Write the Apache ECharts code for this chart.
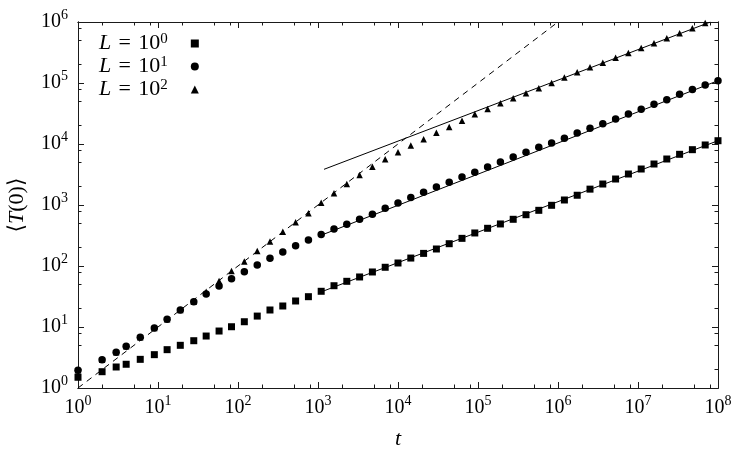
<html lang="en">
<head>
  <meta charset="UTF-8">
  <title>T(0) vs t</title>
  <style>
    html, body { margin: 0; padding: 0; background: #fff; }
    #chart { width: 750px; height: 450px; }
  </style>
</head>
<body>
  <div id="chart"></div>
  <script src="https://cdn.jsdelivr.net/npm/echarts@6/dist/echarts.min.js"></script>
  <script>
    // time points shared by all three data sets
    var times = [1, 2, 3, 4, 6, 9, 13, 19, 28, 40, 58, 83, 120, 174, 251, 363, 525, 759,
      1096, 1585, 2291, 3311, 4786, 6918, 10000, 14454, 20893, 30200, 43652, 63096,
      91201, 131826, 190546, 275423, 398107, 575440, 831764, 1202264, 1737801, 2511886,
      3630781, 5248075, 7585776, 10964782, 15848932, 22908677, 33113112, 47863009,
      69183097, 100000000]

    var valsL0 = [1.50, 1.85, 2.21, 2.45, 2.95, 3.52, 4.25, 5.01, 5.96, 7.11, 8.59, 10.1,
      12.2, 15.1, 19.0, 22.1, 26.7, 31.4, 38.5, 47.5, 56.1, 66.1, 79.8, 95.3, 112, 135,
      161, 190, 232, 284, 348, 415, 489, 583, 693, 818, 989, 1208, 1445, 1820, 2208, 2667,
      3221, 3890, 4699, 5675, 6776, 8072, 9638, 11324]

    var valsL1 = [1.95, 2.91, 3.85, 4.82, 6.78, 9.64, 13.4, 19.0, 26.0, 34.8, 47.0, 61.9,
      80.7, 104, 134, 170, 215, 267, 327, 405, 482, 582, 703, 881, 1079, 1327, 1614, 1972,
      2355, 2877, 3436, 4198, 5070, 6124, 7311, 8831, 10375, 12388, 15136, 18072, 21528,
      25704, 31046, 37068, 44771, 53333, 65313, 77983, 92683, 109144]

    var valsL2 = [1.95, 2.91, 3.85, 4.82, 6.78, 9.64, 13.4, 19.0, 26.0, 38.0, 56.8, 82.8,
      119, 176, 251, 366, 520, 729, 1091, 1552, 2208, 3105, 4246, 5610, 7295, 9441, 11940,
      15311, 19011, 24099, 30690, 37497, 46452, 56105, 67764, 81846, 100000, 123027,
      149624, 180717, 215278, 260016, 310456, 374973, 447713, 539511, 651628, 787046,
      963829, 1148154]

    // guide lines: [t, value] end points
    var dashedLine = [[1, 1], [1000000, 1000000]]
    var fitL2 = [[1189, 3846], [80500000, 1000000]]
    var fitL1 = [[1060, 314], [100000000, 109144]]
    var fitL0 = [[1060, 37], [100000000, 11324]]

    var legendNames = ['L = 10^0', 'L = 10^1', 'L = 10^2']
    var xMajor = [1, 10, 100, 1000, 10000, 100000, 1000000, 10000000, 100000000]
    var yMajor = [1, 10, 100, 1000, 10000, 100000, 1000000]
    var minorSteps = [2, 5, 8]

    var serif = "'Liberation Serif', 'DejaVu Serif', serif"
    var ink = '#1a1a1a'

    var minorOf = function (majors) {
      var out = []
      majors.slice(0, -1).forEach(function (m) {
        minorSteps.forEach(function (s) { out.push(m * s) })
      })
      return out
    }

    var powLabel = function (v) {
      var e = Math.round(Math.log10(v))
      return '{b|10}{s|' + e + '}'
    }

    var labelRich = {
      b: { fontFamily: serif, fontSize: 20, color: '#000', lineHeight: 28 },
      s: { fontFamily: serif, fontSize: 14, color: '#000', lineHeight: 14, verticalAlign: 'top' }
    }

    var pairs = function (vals) {
      return times.map(function (t, i) { return [t, vals[i]] })
    }

    var makeX = function (pos, values, len, labels) {
      return {
        type: 'log', logBase: 10, min: 1, max: 100000000, position: pos,
        gridIndex: 0,
        axisLine: { show: true, onZero: false, lineStyle: { color: ink, width: 1 } },
        axisTick: { show: true, inside: true, length: len, customValues: values, lineStyle: { color: ink } },
        axisLabel: labels ? {
          show: true, margin: 6, customValues: xMajor, formatter: powLabel, rich: labelRich
        } : { show: false },
        splitLine: { show: false },
        minorTick: { show: false }
      }
    }

    var makeY = function (pos, values, len, labels) {
      return {
        type: 'log', logBase: 10, min: 1, max: 1000000, position: pos,
        gridIndex: 0,
        axisLine: { show: true, onZero: false, lineStyle: { color: ink, width: 1 } },
        axisTick: { show: true, inside: true, length: len, customValues: values, lineStyle: { color: ink } },
        axisLabel: labels ? {
          show: true, margin: 10, customValues: yMajor, formatter: powLabel, rich: labelRich
        } : { show: false },
        splitLine: { show: false },
        minorTick: { show: false }
      }
    }

    var xAxes = [
      makeX('bottom', xMajor, 6, true),
      makeX('bottom', minorOf(xMajor), 3.5, false),
      makeX('top', xMajor, 6, false),
      makeX('top', minorOf(xMajor), 3.5, false)
    ]
    xAxes[0].name = 't'
    xAxes[0].nameLocation = 'middle'
    xAxes[0].nameGap = 40
    xAxes[0].nameTextStyle = { fontFamily: serif, fontSize: 22, fontStyle: 'italic', color: '#000' }

    var yAxes = [
      makeY('left', yMajor, 6, true),
      makeY('left', minorOf(yMajor), 3.5, false),
      makeY('right', yMajor, 6, false),
      makeY('right', minorOf(yMajor), 3.5, false)
    ]
    yAxes[0].name = '\u27E8{i|T}(0)\u27E9'
    yAxes[0].nameLocation = 'middle'
    yAxes[0].nameGap = 50
    yAxes[0].nameTextStyle = {
      fontFamily: serif, fontSize: 22, color: '#000',
      rich: { i: { fontFamily: serif, fontSize: 22, fontStyle: 'italic', color: '#000' } }
    }

    var lineSeries = function (data, dashed) {
      return {
        type: 'line', data: data, showSymbol: false, silent: true, clip: true,
        xAxisIndex: 0, yAxisIndex: 0, z: 1,
        lineStyle: { color: '#000', width: 1, type: dashed ? [6, 5] : 'solid' }
      }
    }

    var dotSeries = function (name, vals, symbol, size) {
      return {
        name: name, type: 'scatter', data: pairs(vals), symbol: symbol, symbolSize: size,
        xAxisIndex: 0, yAxisIndex: 0, clip: true, z: 3,
        itemStyle: { color: '#000', opacity: 1 }
      }
    }

    var option = {
      animation: false,
      backgroundColor: '#fff',
      grid: { left: 78, right: 32, top: 22, bottom: 62, containLabel: false, outerBoundsMode: 'none' },
      legend: {
        orient: 'vertical', left: 94, top: 27, align: 'right', itemGap: 0,
        itemWidth: 8, itemHeight: 8,
        data: legendNames,
        formatter: function (n) {
          var e = n.slice(-1)
          return '{i|L}\u2004=\u200410{s|' + e + '}{g|}'
        },
        textStyle: {
          fontFamily: serif, fontSize: 22, color: '#000', lineHeight: 23,
          rich: {
            i: { fontFamily: serif, fontSize: 22, fontStyle: 'italic', color: '#000', lineHeight: 23 },
            s: { fontFamily: serif, fontSize: 15, color: '#000', lineHeight: 15, verticalAlign: 'top' },
            g: { width: 18 }
          }
        }
      },
      xAxis: xAxes,
      yAxis: yAxes,
      series: [
        lineSeries(dashedLine, true),
        lineSeries(fitL2, false),
        lineSeries(fitL1, false),
        lineSeries(fitL0, false),
        dotSeries(legendNames[0], valsL0, 'rect', 7),
        dotSeries(legendNames[2], valsL2, 'triangle', 6.5),
        dotSeries(legendNames[1], valsL1, 'circle', 7.5)
      ]
    }

    var chart = echarts.init(document.getElementById('chart'), null, { renderer: 'canvas' })
    chart.setOption(option)
  </script>
</body>
</html>
